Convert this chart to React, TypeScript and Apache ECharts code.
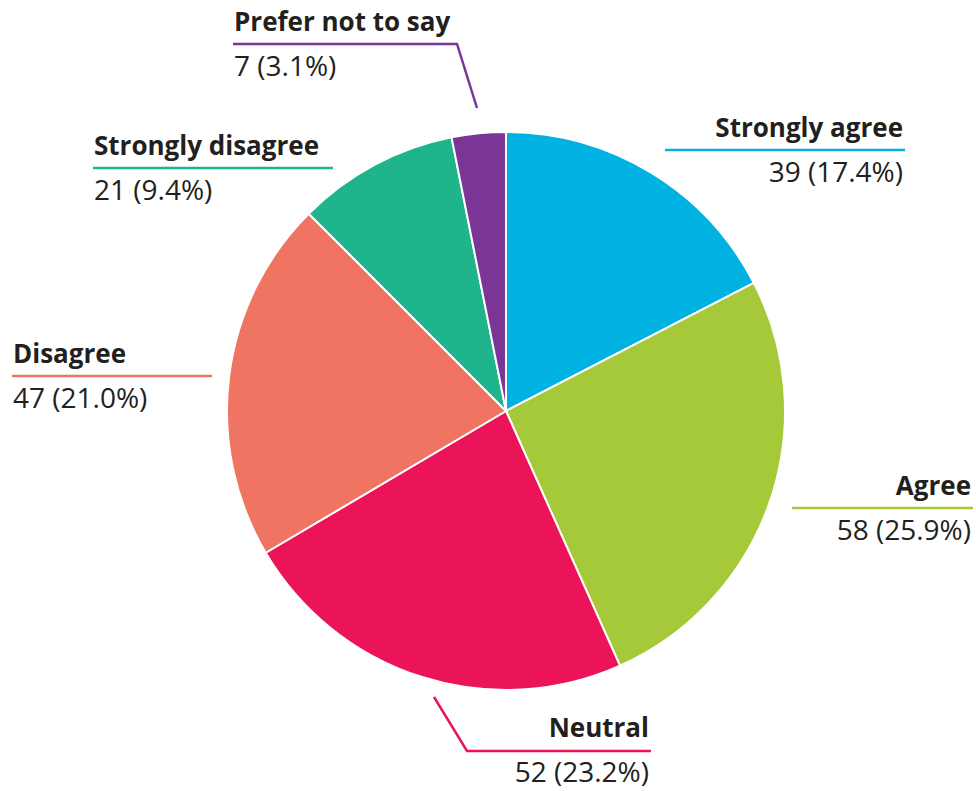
import React, { useEffect, useRef } from "react";
import * as echarts from "echarts";

const categories = ["Strongly agree", "Agree", "Neutral", "Disagree", "Strongly disagree", "Prefer not to say"];
const counts = [39, 58, 52, 47, 21, 7];
const colors = ["#00b2e2", "#a6c93a", "#ec1459", "#ef7461", "#20b48c", "#7b3597"];

// label layout: anchor x, underline y, alignment, label-line points
const labelPos = [
  { x: 903, y: 150, align: "right", line: [[665, 150], [665, 150], [905, 150]] },
  { x: 971, y: 508, align: "right", line: [[792, 508], [792, 508], [973, 508]] },
  { x: 649, y: 750, align: "right", line: [[434, 697], [467, 751], [651, 751]] },
  { x: 13, y: 376, align: "left", line: [[212, 376], [212, 376], [12, 376]] },
  { x: 94, y: 168, align: "left", line: [[333, 168], [333, 168], [93, 168]] },
  { x: 234, y: 44, align: "left", line: [[477, 108], [457, 44], [233, 44]] },
];

export default function App() {
  const ref = useRef<HTMLDivElement>(null);
  useEffect(() => {
    document.body.style.margin = "0";
    const chart = echarts.init(ref.current!, null, { renderer: "svg" });
    const total = counts.reduce((a, b) => a + b, 0);
    chart.setOption({
      animation: false,
      backgroundColor: "#ffffff",
      series: [
        {
          type: "pie",
          center: [506, 411],
          radius: 279,
          startAngle: 90,
          clockwise: true,
          avoidLabelOverlap: false,
          itemStyle: { borderColor: "#ffffff", borderWidth: 2 },
          data: categories.map((c, i) => ({
            name: c,
            value: counts[i],
            itemStyle: { color: colors[i] },
            labelLine: { lineStyle: { color: colors[i], width: 2.5 } },
          })),
          label: {
            show: true,
            position: "outside",
            fontFamily: "Open Sans",
            color: "#231f20",
            formatter: (p: any) =>
              `{n|${p.name}}\n{v|${p.value} (${((p.value / total) * 100).toFixed(1)}%)}`,
            rich: {
              n: { fontFamily: "Open Sans", fontWeight: "bold", fontSize: 26, lineHeight: 42, color: "#231f20" },
              v: { fontFamily: "Open Sans", fontSize: 28, lineHeight: 46, color: "#231f20" },
            },
          },
          labelLine: { show: true, smooth: false, length: 10, length2: 10 },
          labelLayout: (params: any) => {
            const lp = labelPos[params.dataIndex];
            return {
              x: lp.x,
              y: lp.y,
              align: lp.align,
              verticalAlign: "middle",
              labelLinePoints: lp.line,
            };
          },
        },
      ],
    });
    return () => chart.dispose();
  }, []);
  return <div ref={ref} style={{ width: 976, height: 791 }} />;
}
